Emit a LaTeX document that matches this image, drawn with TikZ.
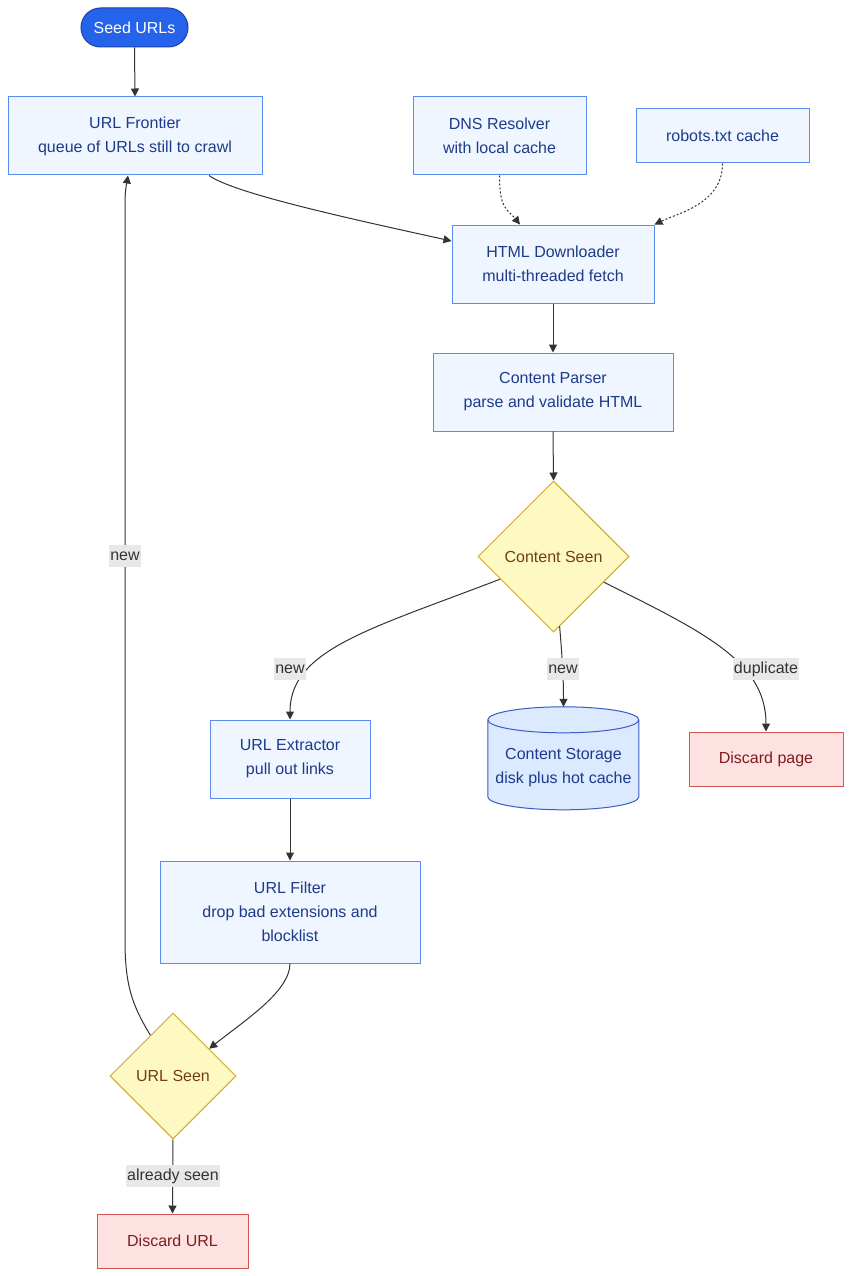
\documentclass[tikz,border=0pt]{standalone}
\usepackage{fontspec}
\setmainfont{Liberation Sans}
\usetikzlibrary{arrows.meta,shapes.geometric,backgrounds,calc}
\definecolor{boxfill}{HTML}{EFF6FF}
\definecolor{boxline}{HTML}{5B8DEF}
\definecolor{boxtext}{HTML}{1E3A8A}
\definecolor{decfill}{HTML}{FEF9C3}
\definecolor{decline}{HTML}{D4A72C}
\definecolor{dectext}{HTML}{713F12}
\definecolor{badfill}{HTML}{FEE2E2}
\definecolor{badline}{HTML}{D05555}
\definecolor{badtext}{HTML}{7F1D1D}
\definecolor{seedfill}{HTML}{2563EB}
\definecolor{seedline}{HTML}{1E40AF}
\definecolor{storefill}{HTML}{DBEAFE}
\definecolor{storeline}{HTML}{3B5CC4}
\definecolor{edgecol}{HTML}{333333}
\definecolor{lblfill}{HTML}{E8E8E8}
\begin{document}
\begin{tikzpicture}[x=1pt,y=-1pt,
  every node/.style={font=\fontsize{16pt}{24pt}\selectfont, align=center, inner sep=0pt},
  proc/.style={rectangle, draw=boxline, fill=boxfill, text=boxtext, line width=1pt},
  decide/.style={diamond, aspect=1, draw=decline, fill=decfill, text=dectext, line width=1pt},
  bad/.style={rectangle, draw=badline, fill=badfill, text=badtext, line width=1pt},
  seedbox/.style={rectangle, rounded corners=19.5pt, draw=seedline, fill=seedfill, text=white, line width=1pt},
  storebox/.style={rectangle, text=boxtext},
  flow/.style={draw=edgecol, line width=1pt, -{Triangle[length=8pt,width=8pt]}},
  dotflow/.style={flow, dash pattern=on 2pt off 2pt},
  lbl/.style={fill=lblfill, text=edgecol, inner xsep=1pt, inner ysep=3pt, text height=12pt, text depth=4pt}
]
\useasboundingbox (0,0) rectangle (851,1276);

\node[seedbox, minimum width=107pt, minimum height=39pt] (seed) at (134.5,27.5) {Seed URLs};
\node[proc, minimum width=254pt, minimum height=78pt] (fr) at (135,136) {URL Frontier\\queue of URLs still to crawl};
\node[proc, minimum width=173pt, minimum height=78pt] (dns) at (499.5,136) {DNS Resolver\\with local cache};
\node[proc, minimum width=173pt, minimum height=54pt] (rob) at (722.5,136) {robots.txt cache};
\node[proc, minimum width=202pt, minimum height=78pt] (dl) at (553,264) {HTML Downloader\\multi-threaded fetch};
\node[proc, minimum width=240pt, minimum height=78pt] (cp) at (553,392) {Content Parser\\parse and validate HTML};
\node[decide, minimum width=151pt, minimum height=151pt] (cs) at (553.5,556.5) {Content Seen};
\node[proc, minimum width=160pt, minimum height=78pt] (ue) at (290,759) {URL Extractor\\pull out links};
\node[storebox, minimum width=151pt, minimum height=84pt] (cst) at (563.5,768) {Content Storage\\disk plus hot cache};
\node[bad, minimum width=154pt, minimum height=54pt] (dp) at (766,759) {Discard page};
\node[proc, minimum width=260pt, minimum height=102pt] (uf) at (290,912) {URL Filter\\drop bad extensions and\\blocklist};
\node[decide, minimum width=126pt, minimum height=126pt] (us) at (173,1076) {URL Seen};
\node[bad, minimum width=151pt, minimum height=54pt] (du) at (172.5,1241) {Discard URL};

% white page and cylinder outline behind storage text
\begin{scope}[on background layer]
  \fill[white] (0,0) rectangle (851,1276);
  \coordinate (cyltl) at ($(cst.north west)+(0,-6)$);
  \filldraw[draw=storeline, fill=storefill, line width=1pt]
    (cyltl) -- ++(0,77) arc[start angle=180, end angle=360, x radius=75.5pt, y radius=13pt]
    -- ++(0,-77) arc[start angle=0, end angle=180, x radius=75.5pt, y radius=13pt] -- cycle;
  \draw[draw=storeline, line width=1pt]
    (cyltl) arc[start angle=180, end angle=360, x radius=75.5pt, y radius=13pt];
\end{scope}
\coordinate (cyltop) at ($(cst.north)+(0,-19)$);

% edges
\draw[flow] (seed.south) -- (fr.north);
\draw[flow] ([xshift=74pt]fr.south) .. controls +(25,18) and +(-100,-22) .. ([yshift=23pt]dl.west);
\draw[dotflow] (dns.south) .. controls +(0,35) and +(-12,-15) .. ([xshift=-33pt]dl.north);
\draw[dotflow] (rob.south) .. controls +(0,40) and +(25,-12) .. (dl.north east);
\draw[flow] (dl.south) -- (cp.north);
\draw[flow] (cp.south) -- (cs.north);
\draw[flow] (cs.203) .. controls +(-130,50) and +(0,-70) .. (ue.north);
\draw[flow] (cs.275) .. controls +(3,35) and +(0,-25) .. (cyltop);
\draw[flow] (cs.333) .. controls +(100,50) and +(0,-70) .. (dp.north);
\draw[flow] (ue.south) -- (uf.north);
\draw[flow] (uf.south) .. controls +(0,28) and +(35,-28) .. (us.37);
\draw[flow] (us.119) .. controls (132,1005) and (125,985) .. (125,940) -- (125,205)
   .. controls (125,188) and (127,182) .. ([xshift=-7pt]fr.south);
\draw[flow] (us.south) -- (du.north);

% edge labels
\node[lbl] (lnew1) at (125,556) {new};
\node[lbl] (lnew2) at (290,669) {new};
\node[lbl] (lnew3) at (563,669) {new};
\node[lbl] (ldup) at (766,669) {duplicate};
\node[lbl] (lseen) at (173,1176) {already seen};
\end{tikzpicture}
\end{document}
